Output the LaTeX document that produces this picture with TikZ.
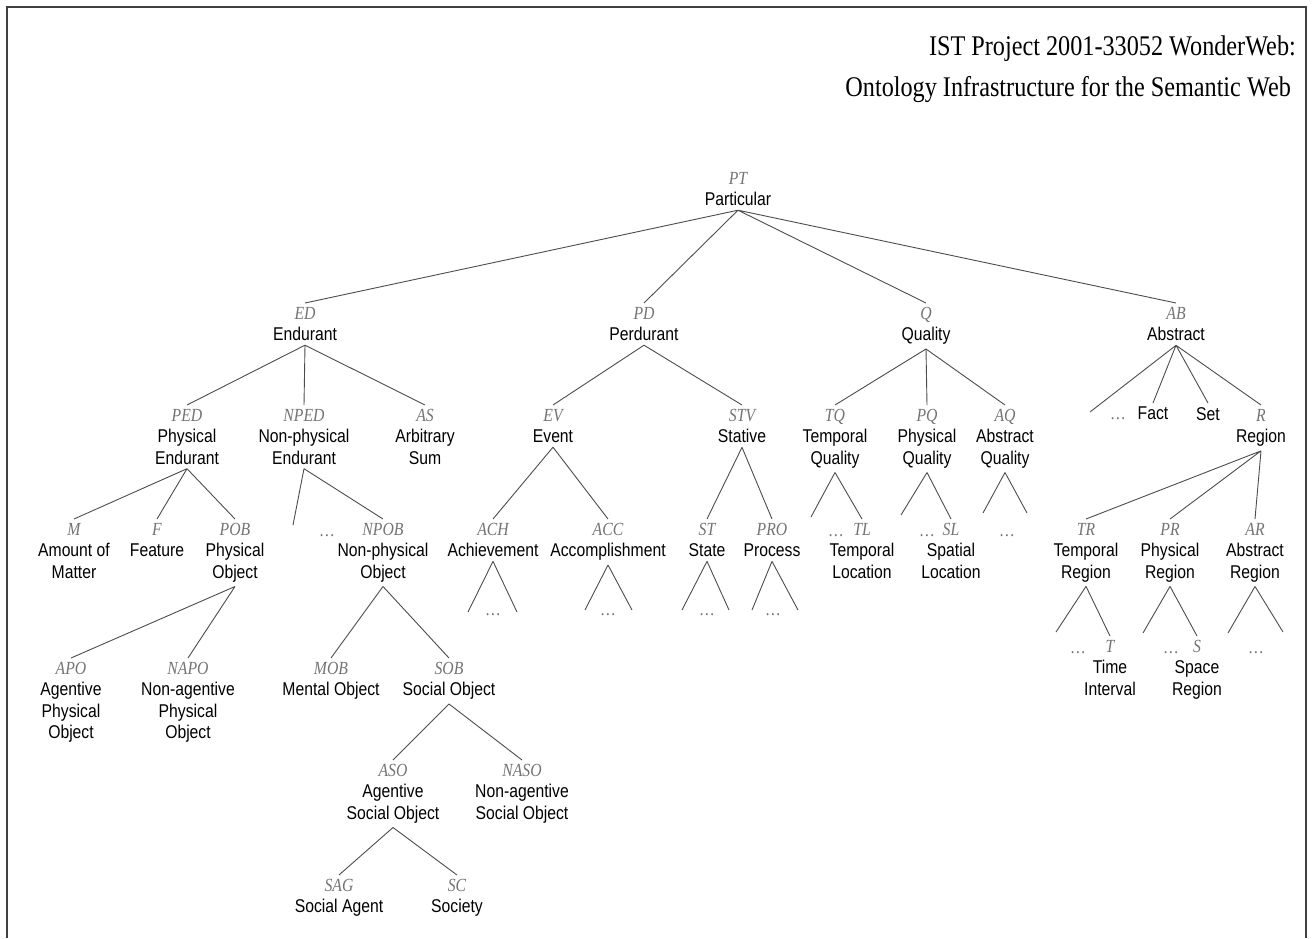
\documentclass[tikz,border=0pt]{standalone}
\usepackage{fontspec}
\setmainfont{Liberation Serif}
\newfontfamily\labfont[FakeStretch=0.85]{Liberation Sans}
\newfontfamily\abbrfont[FakeStretch=0.85]{Liberation Serif}
\definecolor{linegray}{gray}{0.3}
\definecolor{abgray}{gray}{0.45}
\definecolor{framegray}{gray}{0.25}
\newcommand{\ab}[1]{{\abbrfont\itshape\color{abgray}#1}}
\tikzset{
  cat/.style={align=center, anchor=north, yshift=10pt, inner sep=4pt,
    font=\labfont\fontsize{18.5}{21.5}\selectfont},
  dots/.style={anchor=base, inner sep=0pt, text=abgray,
    font=\abbrfont\fontsize{18.5}{21.5}\selectfont},
  title/.style={anchor=base east, inner sep=0pt,
    font=\abbrfont\fontsize{28.5}{34}\selectfont},
  link/.style={draw=linegray, line width=0.9pt},
}
\begin{document}
\begin{tikzpicture}[x=1pt, y=-1pt]
    \useasboundingbox (0,0) rectangle (1312,938);
    \draw[framegray, line width=2pt] (6.5,938) -- (6.5,6.5) -- (1305.5,6.5) -- (1305.5,938);
    \node[title] (title1) at (1296,55.5) {IST Project 2001-33052 WonderWeb:};
    \node[title] (title2) at (1291,96.5) {Ontology Infrastructure for the Semantic Web};

    \node[cat] (PT) at (738,178) {\ab{PT}\\Particular};

    \node[cat] (ED) at (305,313) {\ab{ED}\\Endurant};
    \node[cat] (PD) at (644,313) {\ab{PD}\\Perdurant};
    \node[cat] (Q) at (926,313) {\ab{Q}\\Quality};
    \node[cat] (AB) at (1176,313) {\ab{AB}\\Abstract};

    \node[cat] (PED) at (187,415) {\ab{PED}\\Physical\\Endurant};
    \node[cat] (NPED) at (304,415) {\ab{NPED}\\Non-physical\\Endurant};
    \node[cat] (AS) at (425,415) {\ab{AS}\\Arbitrary\\Sum};
    \node[cat] (EV) at (553,415) {\ab{EV}\\Event};
    \node[cat] (STV) at (742,415) {\ab{STV}\\Stative};
    \node[cat] (TQ) at (835,415) {\ab{TQ}\\Temporal\\Quality};
    \node[cat] (PQ) at (927,415) {\ab{PQ}\\Physical\\Quality};
    \node[cat] (AQ) at (1005,415) {\ab{AQ}\\Abstract\\Quality};
    \node[dots] (AB-d) at (1118,419) {\dots};
    \node[cat] (Fact) at (1153,413) {Fact};
    \node[cat] (Set) at (1208,413) {Set};
    \node[cat] (R) at (1261,415) {\ab{R}\\Region};

    \node[cat] (M) at (74,529) {\ab{M}\\Amount of\\Matter};
    \node[cat] (F) at (157,529) {\ab{F}\\Feature};
    \node[cat] (POB) at (235,529) {\ab{POB}\\Physical\\Object};
    \node[dots] (NPED-d) at (327,536) {\dots};
    \node[cat] (NPOB) at (383,529) {\ab{NPOB}\\Non-physical\\Object};
    \node[cat] (ACH) at (493,529) {\ab{ACH}\\Achievement};
    \node[cat] (ACC) at (608,529) {\ab{ACC}\\Accomplishment};
    \node[cat] (ST) at (707,529) {\ab{ST}\\State};
    \node[cat] (PRO) at (772,529) {\ab{PRO}\\Process};
    \node[dots] (TQ-d) at (836,536) {\dots};
    \node[cat] (TL) at (862,529) {\ab{TL}\\Temporal\\Location};
    \node[dots] (PQ-d) at (927,536) {\dots};
    \node[cat] (SL) at (951,529) {\ab{SL}\\Spatial\\Location};
    \node[dots] (AQ-d) at (1007,536) {\dots};
    \node[cat] (TR) at (1086,529) {\ab{TR}\\Temporal\\Region};
    \node[cat] (PR) at (1170,529) {\ab{PR}\\Physical\\Region};
    \node[cat] (AR) at (1255,529) {\ab{AR}\\Abstract\\Region};

    \node[dots] (ACH-d) at (493,615) {\dots};
    \node[dots] (ACC-d) at (608,615) {\dots};
    \node[dots] (ST-d) at (707,615) {\dots};
    \node[dots] (PRO-d) at (773,615) {\dots};
    \node[dots] (TR-d) at (1078,653) {\dots};
    \node[cat] (T) at (1110,646) {\ab{T}\\Time\\Interval};
    \node[dots] (PR-d) at (1171,653) {\dots};
    \node[cat] (S) at (1197,646) {\ab{S}\\Space\\Region};
    \node[dots] (AR-d) at (1256,653) {\dots};

    \node[cat] (APO) at (71,668) {\ab{APO}\\Agentive\\Physical\\Object};
    \node[cat] (NAPO) at (188,668) {\ab{NAPO}\\Non-agentive\\Physical\\Object};
    \node[cat] (MOB) at (331,668) {\ab{MOB}\\Mental Object};
    \node[cat] (SOB) at (449,668) {\ab{SOB}\\Social Object};
    \node[cat] (ASO) at (393,770) {\ab{ASO}\\Agentive\\Social Object};
    \node[cat] (NASO) at (522,770) {\ab{NASO}\\Non-agentive\\Social Object};
    \node[cat] (SAG) at (339,885) {\ab{SAG}\\Social Agent};
    \node[cat] (SC) at (457,885) {\ab{SC}\\Society};

    \coordinate (AB-l) at (1090,412);
    \coordinate (NPED-l) at (293,525);
    \coordinate (TQ-l) at (811,517);
    \coordinate (PQ-l) at (901,515);
    \coordinate (AQ-l) at (983,513);
    \coordinate (AQ-r) at (1027,513);
    \coordinate (ACH-l) at (468,612);
    \coordinate (ACH-r) at (517,612);
    \coordinate (ACC-l) at (585,610);
    \coordinate (ACC-r) at (632,610);
    \coordinate (ST-l) at (682,610);
    \coordinate (ST-r) at (729,610);
    \coordinate (PRO-l) at (752,610);
    \coordinate (PRO-r) at (798,610);
    \coordinate (TR-l) at (1056,632);
    \coordinate (PR-l) at (1143,633);
    \coordinate (AR-l) at (1228,633);
    \coordinate (AR-r) at (1283,632);

    \draw[link] (PT.south) -- (ED.north) (PT.south) -- (PD.north) (PT.south) -- (Q.north) (PT.south) -- (AB.north);
    \draw[link] (ED.south) -- (PED.north) (ED.south) -- (NPED.north) (ED.south) -- (AS.north);
    \draw[link] (PD.south) -- (EV.north) (PD.south) -- (STV.north);
    \draw[link] (Q.south) -- (TQ.north) (Q.south) -- (PQ.north) (Q.south) -- (AQ.north);
    \draw[link] (AB.south) -- (AB-l) (AB.south) -- (Fact.north) (AB.south) -- (Set.north) (AB.south) -- (R.north);
    \draw[link] (PED.south) -- (M.north) (PED.south) -- (F.north) (PED.south) -- (POB.north);
    \draw[link] (NPED.south) -- (NPED-l) (NPED.south) -- (NPOB.north);
    \draw[link] (EV.south) -- (ACH.north) (EV.south) -- (ACC.north);
    \draw[link] (STV.south) -- (ST.north) (STV.south) -- (PRO.north);
    \draw[link] (TQ.south) -- (TQ-l) (TQ.south) -- (TL.north);
    \draw[link] (PQ.south) -- (PQ-l) (PQ.south) -- (SL.north);
    \draw[link] (AQ.south) -- (AQ-l) (AQ.south) -- (AQ-r);
    \draw[link] (R.south) -- (TR.north) (R.south) -- (PR.north) (R.south) -- (AR.north);
    \draw[link] (POB.south) -- (APO.north) (POB.south) -- (NAPO.north);
    \draw[link] (NPOB.south) -- (MOB.north) (NPOB.south) -- (SOB.north);
    \draw[link] (ACH.south) -- (ACH-l) (ACH.south) -- (ACH-r);
    \draw[link] (ACC.south) -- (ACC-l) (ACC.south) -- (ACC-r);
    \draw[link] (ST.south) -- (ST-l) (ST.south) -- (ST-r);
    \draw[link] (PRO.south) -- (PRO-l) (PRO.south) -- (PRO-r);
    \draw[link] (TR.south) -- (TR-l) (TR.south) -- (T.north);
    \draw[link] (PR.south) -- (PR-l) (PR.south) -- (S.north);
    \draw[link] (AR.south) -- (AR-l) (AR.south) -- (AR-r);
    \draw[link] (SOB.south) -- (ASO.north) (SOB.south) -- (NASO.north);
    \draw[link] (ASO.south) -- (SAG.north) (ASO.south) -- (SC.north);
\end{tikzpicture}
\end{document}
